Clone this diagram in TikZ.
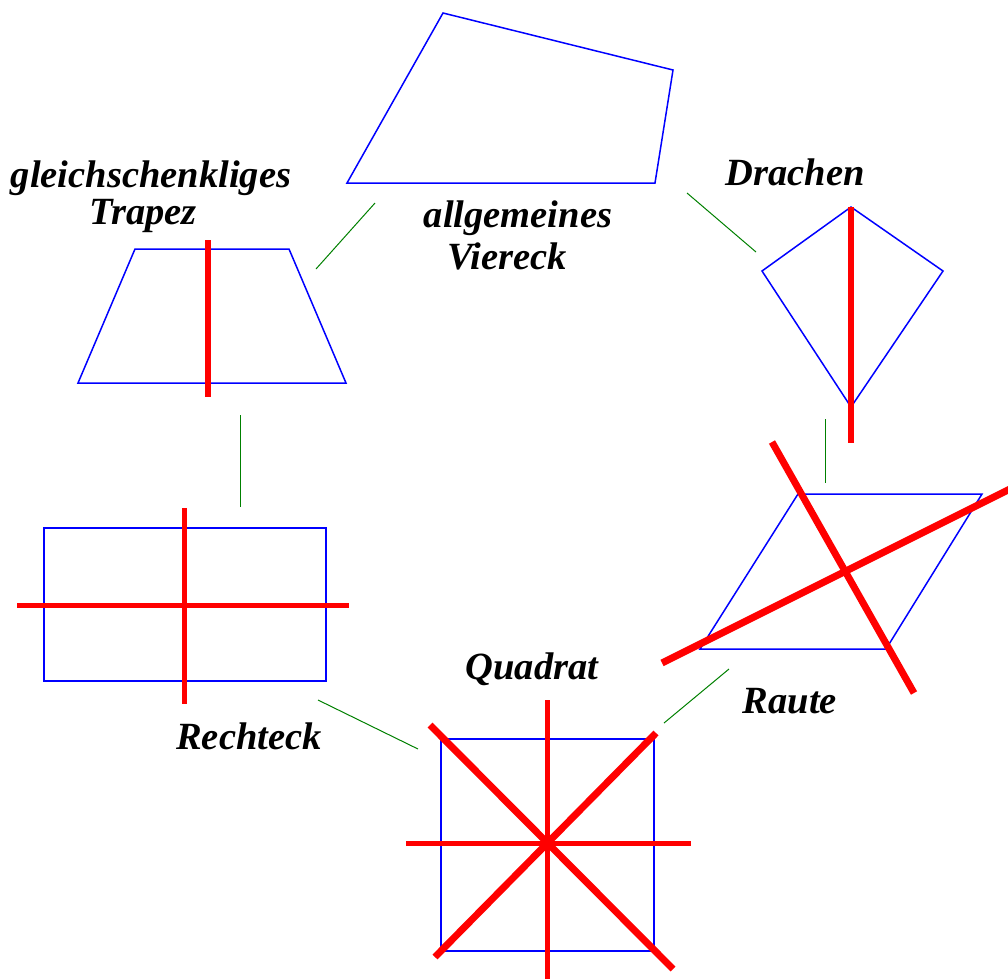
\documentclass[tikz,border=0pt]{standalone}
\usepackage{fontspec}
\setmainfont{Liberation Serif}
\begin{document}
\begin{tikzpicture}[x=1pt,y=-1pt,
  outline/.style={draw=blue, line width=1.5pt, line join=miter},
  axis/.style={draw=red, line width=6pt},
  thinaxis/.style={draw=red, line width=5pt},
  thickaxis/.style={draw=red, line width=7pt},
  link/.style={draw=green!50!black, line width=1pt},
  lbl/.style={font=\fontsize{38.5}{40}\selectfont\bfseries\itshape, anchor=base, inner sep=0pt}]
\useasboundingbox (0,0) rectangle (1008,978);
\clip (0,0) rectangle (1008,978);

% general quadrilateral
\draw[outline] (443,13) -- (673,70) -- (655,183) -- (347,183) -- cycle;
\node[lbl] (vlabel1) at (518,227) {allgemeines};
\node[lbl] (vlabel2) at (507,269) {Viereck};

% isosceles trapezoid with its axis
\draw[outline] (135,249) -- (289,249) -- (346,383) -- (78,383) -- cycle;
\draw[axis] (208,240) -- (208,397);
\node[lbl] (tlabel1) at (151,187) {gleichschenkliges};
\node[lbl] (tlabel2) at (143,224) {Trapez};

% kite with its axis
\draw[outline] (851,207) -- (943,271) -- (851,407) -- (762,271) -- cycle;
\draw[axis] (851,207) -- (851,443);
\node[lbl] (dlabel) at (795,185) {Drachen};

% rhombus with both diagonals
\draw[outline] (798,494) -- (982,494) -- (886,649) -- (700,649) -- cycle;
\draw[thickaxis] (662,663) -- (1012,488);
\draw[thickaxis] (772,442) -- (914,693);
\node[lbl] (rlabel) at (790,713) {Raute};

% square with four axes
\draw[outline] (441,739) rectangle (654,951);
\draw[thinaxis] (547,700) -- (547,980);
\draw[thinaxis] (406,843) -- (691,843);
\draw[thickaxis] (430,725) -- (673,969);
\draw[thickaxis] (656,733) -- (435,957);
\node[lbl] (qlabel) at (532,679) {Quadrat};

% rectangle with two axes
\draw[outline] (44,528) rectangle (326,681);
\draw[thinaxis] (184,508) -- (184,704);
\draw[thinaxis] (17,605) -- (349,605);
\node[lbl] (relabel) at (249,749) {Rechteck};

% connector end points
\coordinate (c1a) at (316,269);  \coordinate (c1b) at (375,203);
\coordinate (c2a) at (687,193);  \coordinate (c2b) at (756,252);
\coordinate (c3a) at (825,419);  \coordinate (c3b) at (825,483);
\coordinate (c4a) at (729,669);  \coordinate (c4b) at (664,723);
\coordinate (c5a) at (318,700);  \coordinate (c5b) at (418,749);
\coordinate (c6a) at (240,415);  \coordinate (c6b) at (240,507);

% connectors between the shapes
\draw[link] (c1a) -- (c1b);
\draw[link] (c2a) -- (c2b);
\draw[link] (c3a) -- (c3b);
\draw[link] (c4a) -- (c4b);
\draw[link] (c5a) -- (c5b);
\draw[link] (c6a) -- (c6b);
\end{tikzpicture}
\end{document}
